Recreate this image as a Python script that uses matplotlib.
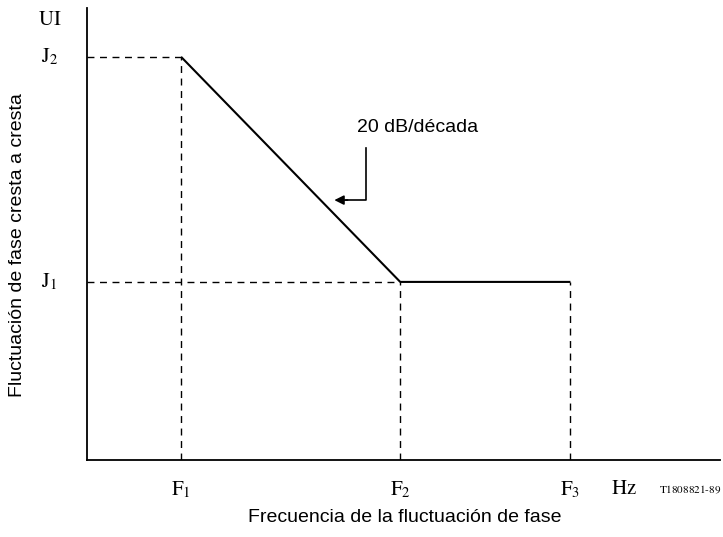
import matplotlib
matplotlib.use("Agg")
import matplotlib.pyplot as plt

plt.rcParams['mathtext.fontset'] = 'stix'

# Data (abstract positions on the axes)
freq_labels = [r'$\mathrm{F}_1$', r'$\mathrm{F}_2$', r'$\mathrm{F}_3$']
freq_pos = [1.0, 3.33, 5.14]
jit_labels = [r'$\mathrm{J}_1$', r'$\mathrm{J}_2$']
jit_vals = [0.394, 0.892]

W, H = 723, 537
fig = plt.figure(figsize=(W / 100, H / 100), dpi=100)
ax = fig.add_axes([87 / W, (H - 460) / H, (720 - 87) / W, (460 - 8) / H])
ax.set_xlim(0, 6.73)
ax.set_ylim(0, 1.0)
for s in ['top', 'right']:
    ax.spines[s].set_visible(False)
for s in ['left', 'bottom']:
    ax.spines[s].set_linewidth(1.3)
ax.set_xticks([])
ax.set_yticks([])

F1, F2, F3 = freq_pos
J1, J2 = jit_vals
dash = dict(color='black', lw=1.0, ls=(0, (5, 4)))
# dashed guides
ax.plot([0, F1], [J2, J2], **dash)
ax.plot([F1, F1], [0, J2], **dash)
ax.plot([0, F2], [J1, J1], **dash)
ax.plot([F2, F2], [0, J1], **dash)
ax.plot([F3, F3], [0, J1], **dash)
# mask curve
ax.plot([F1, F2, F3], [J2, J1, J1], color='black', lw=1.5, solid_capstyle='butt')

# annotation
ty = 0.575
tip_x = 2.6
ax.plot([2.97, 2.97, tip_x + 0.15], [0.69, ty, ty], color='black', lw=1.2)
ax.annotate('', xy=(tip_x, ty), xytext=(tip_x + 0.2, ty),
            arrowprops=dict(arrowstyle='-|>', color='black', lw=1.2, mutation_scale=14))
ax.text(3.51, 0.735, '20 dB/década', fontsize=14, family='Liberation Sans',
        ha='center', va='center')

serif = dict(fontsize=15, ha='center', va='center')
for lab, x in zip(freq_labels, freq_pos):
    ax.text(x, -0.065, lab, **serif)
for lab, y in zip(jit_labels, jit_vals):
    ax.text(-0.4, y, lab, **serif)
ax.text(-0.4, 0.975, r'$\mathrm{UI}$', fontsize=15, ha='center', va='center', clip_on=False)
ax.text(5.71, -0.062, r'$\mathrm{Hz}$', fontsize=15, ha='center', va='center')
fig.text(721 / W, 1 - 490 / H, r'$\mathrm{T1808821\text{-}89}$', fontsize=8,
         ha='right', va='center')

fig.text(405 / W, 1 - 518 / H, 'Frecuencia de la fluctuación de fase', fontsize=14,
         family='Liberation Sans', ha='center', va='center')
fig.text(18 / W, 1 - 245 / H, 'Fluctuación de fase cresta a cresta', fontsize=14,
         family='Liberation Sans', ha='center', va='center', rotation=90)

fig.savefig('out.png', dpi=100)
